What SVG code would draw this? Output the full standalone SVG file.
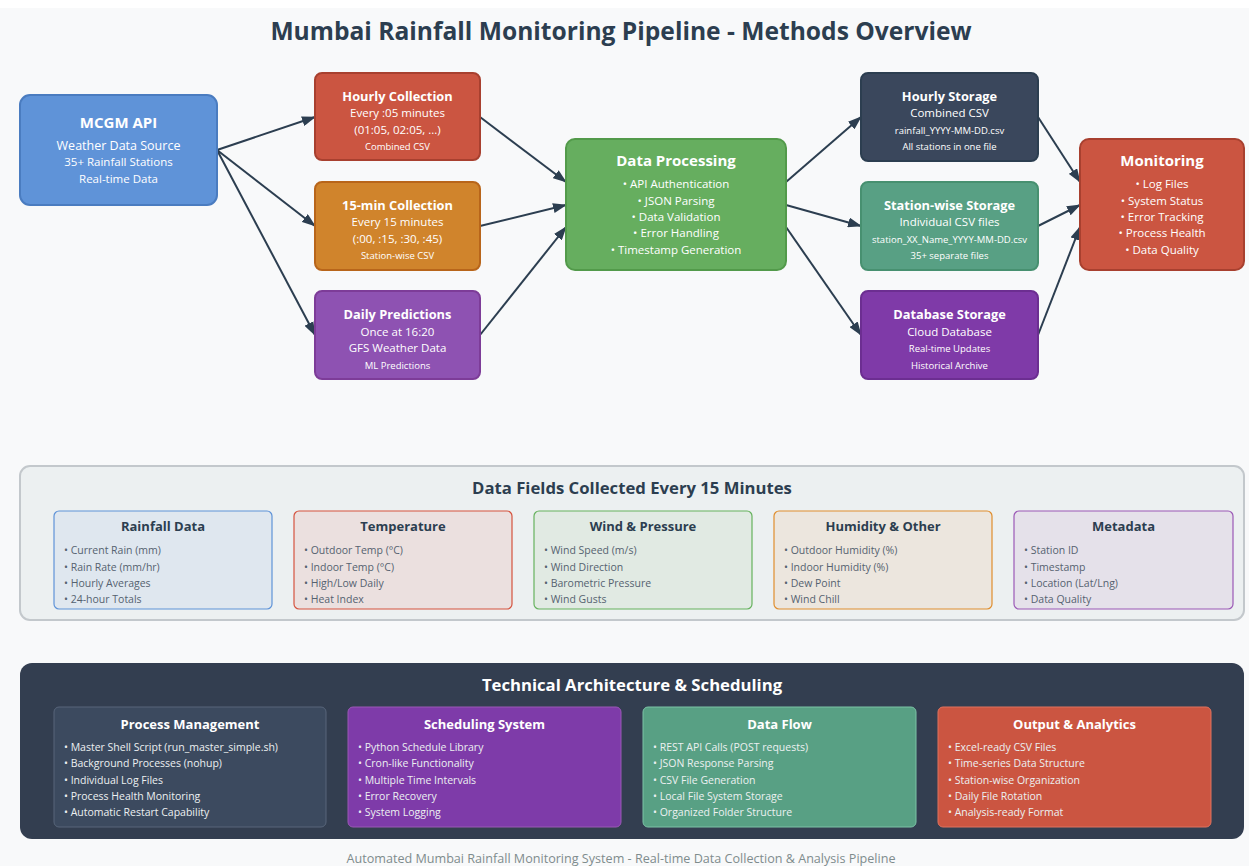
<svg xmlns="http://www.w3.org/2000/svg" width="1249" height="866" viewBox="0 0 1249 866">
<defs>
<marker id="arr" markerUnits="userSpaceOnUse" markerWidth="14" markerHeight="10" refX="13" refY="5" orient="auto">
<path d="M0,0 L14,5 L0,10 z" fill="#2c3e50"/>
</marker>
</defs>
<style>
text{font-family:"Open Sans","Noto Sans",sans-serif;}
.w{fill:#ffffff;text-anchor:middle;}
.t{font-weight:bold;font-size:12.8px;}
.T{font-weight:bold;font-size:15px;}
.s{font-size:11.5px;}
.m{font-size:12.5px;}
.x{font-size:9.5px;}
.node{stroke-width:2;}
.conn line{stroke:#2c3e50;stroke-width:2;marker-end:url(#arr);}
.ft{font-weight:bold;font-size:13px;fill:#2c3e50;text-anchor:middle;}
.fb{font-size:10.5px;fill:#556270;}
.at{font-weight:bold;font-size:13px;fill:#ffffff;text-anchor:middle;}
.ab{font-size:10.5px;fill:#ecf0f1;}
</style>
<rect x="0" y="0" width="1249" height="866" fill="#ffffff"/>
<rect x="0" y="8" width="1249" height="858" fill="#f8f9fa"/>
<text x="621" y="40" text-anchor="middle" font-size="24.6" font-weight="bold" fill="#2c3e50">Mumbai Rainfall Monitoring Pipeline - Methods Overview</text>

<g class="conn" id="connectors">
<line x1="217" y1="150" x2="315" y2="117"/>
<line x1="217" y1="150" x2="315" y2="226"/>
<line x1="217" y1="150" x2="315" y2="335"/>
<line x1="480" y1="117" x2="566" y2="182"/>
<line x1="480" y1="226" x2="566" y2="205"/>
<line x1="480" y1="335" x2="566" y2="227"/>
<line x1="786" y1="182" x2="861" y2="117"/>
<line x1="786" y1="205" x2="861" y2="226"/>
<line x1="786" y1="227" x2="861" y2="335"/>
<line x1="1038" y1="117" x2="1080" y2="182"/>
<line x1="1038" y1="226" x2="1080" y2="205"/>
<line x1="1038" y1="335" x2="1080" y2="227"/>
</g>

<g id="mcgm-api">
<rect class="node" x="20" y="95" width="197" height="110" rx="10" fill="#5f93d8" stroke="#4a7cc0"/>
<text class="w T" x="118.5" y="128">MCGM API</text>
<text class="w m" x="118.5" y="150">Weather Data Source</text>
<text class="w s" x="118.5" y="166" font-size="10.5">35+ Rainfall Stations</text>
<text class="w s" x="118.5" y="183" font-size="10.5">Real-time Data</text>
</g>

<g id="hourly-collection">
<rect class="node" x="315" y="73" width="165" height="87" rx="7" fill="#cb5541" stroke="#a8402f"/>
<text class="w t" x="397.5" y="101">Hourly Collection</text>
<text class="w s" x="397.5" y="117">Every :05 minutes</text>
<text class="w s" x="397.5" y="134">(01:05, 02:05, ...)</text>
<text class="w x" x="397.5" y="150">Combined CSV</text>
</g>

<g id="min15-collection">
<rect class="node" x="315" y="182" width="165" height="88" rx="7" fill="#d0842c" stroke="#b8651a"/>
<text class="w t" x="397.5" y="210">15-min Collection</text>
<text class="w s" x="397.5" y="226">Every 15 minutes</text>
<text class="w s" x="397.5" y="243">(:00, :15, :30, :45)</text>
<text class="w x" x="397.5" y="259">Station-wise CSV</text>
</g>

<g id="daily-predictions">
<rect class="node" x="315" y="291" width="165" height="88" rx="7" fill="#8e52b2" stroke="#7d3c98"/>
<text class="w t" x="397.5" y="319">Daily Predictions</text>
<text class="w s" x="397.5" y="336">Once at 16:20</text>
<text class="w s" x="397.5" y="352">GFS Weather Data</text>
<text class="w x" x="397.5" y="369">ML Predictions</text>
</g>

<g id="data-processing">
<rect class="node" x="566" y="139" width="220" height="131" rx="9" fill="#66ae5f" stroke="#529a4a"/>
<text class="w T" x="676" y="166">Data Processing</text>
<text class="w s" x="676" y="188">• API Authentication</text>
<text class="w s" x="676" y="205">• JSON Parsing</text>
<text class="w s" x="676" y="221">• Data Validation</text>
<text class="w s" x="676" y="237">• Error Handling</text>
<text class="w s" x="676" y="254">• Timestamp Generation</text>
</g>

<g id="hourly-storage">
<rect class="node" x="861" y="73" width="177" height="88" rx="7" fill="#3a475c" stroke="#2c3e50"/>
<text class="w t" x="949.5" y="101">Hourly Storage</text>
<text class="w s" x="949.5" y="117">Combined CSV</text>
<text class="w x" x="949.5" y="134">rainfall_YYYY-MM-DD.csv</text>
<text class="w x" x="949.5" y="150">All stations in one file</text>
</g>

<g id="station-storage">
<rect class="node" x="861" y="182" width="177" height="88" rx="7" fill="#58a084" stroke="#479070"/>
<text class="w t" x="949.5" y="210">Station-wise Storage</text>
<text class="w s" x="949.5" y="226">Individual CSV files</text>
<text class="w x" x="949.5" y="243">station_XX_Name_YYYY-MM-DD.csv</text>
<text class="w x" x="949.5" y="259">35+ separate files</text>
</g>

<g id="database-storage">
<rect class="node" x="861" y="291" width="177" height="88" rx="7" fill="#7f3aa8" stroke="#6c2e91"/>
<text class="w t" x="949.5" y="319">Database Storage</text>
<text class="w s" x="949.5" y="336">Cloud Database</text>
<text class="w x" x="949.5" y="352">Real-time Updates</text>
<text class="w x" x="949.5" y="369">Historical Archive</text>
</g>

<g id="monitoring">
<rect class="node" x="1080" y="139" width="164" height="131" rx="9" fill="#cb5541" stroke="#a8402f"/>
<text class="w T" x="1162" y="166">Monitoring</text>
<text class="w s" x="1162" y="188">• Log Files</text>
<text class="w s" x="1162" y="205">• System Status</text>
<text class="w s" x="1162" y="221">• Error Tracking</text>
<text class="w s" x="1162" y="237">• Process Health</text>
<text class="w s" x="1162" y="254">• Data Quality</text>
</g>

<g id="data-fields">
<rect x="20" y="466" width="1224" height="154" rx="10" fill="#ecf0f1" stroke="#c3c8cc" stroke-width="2"/>
<text x="632" y="494" text-anchor="middle" font-size="16.7" font-weight="bold" fill="#2c3e50">Data Fields Collected Every 15 Minutes</text>
<g id="field-rainfall">
<rect x="54" y="511" width="218" height="98" rx="5" fill="#dfe7ef" stroke="#5f93d8" stroke-width="1.2"/>
<text class="ft" x="163" y="531">Rainfall Data</text>
<text class="fb" x="64" y="554">• Current Rain (mm)</text>
<text class="fb" x="64" y="571">• Rain Rate (mm/hr)</text>
<text class="fb" x="64" y="587">• Hourly Averages</text>
<text class="fb" x="64" y="603">• 24-hour Totals</text>
</g>
<g id="field-temperature">
<rect x="294" y="511" width="218" height="98" rx="5" fill="#ebe0df" stroke="#d5533f" stroke-width="1.2"/>
<text class="ft" x="403" y="531">Temperature</text>
<text class="fb" x="304" y="554">• Outdoor Temp (°C)</text>
<text class="fb" x="304" y="571">• Indoor Temp (°C)</text>
<text class="fb" x="304" y="587">• High/Low Daily</text>
<text class="fb" x="304" y="603">• Heat Index</text>
</g>
<g id="field-wind">
<rect x="534" y="511" width="218" height="98" rx="5" fill="#e1eae3" stroke="#66b25e" stroke-width="1.2"/>
<text class="ft" x="643" y="531">Wind &amp; Pressure</text>
<text class="fb" x="544" y="554">• Wind Speed (m/s)</text>
<text class="fb" x="544" y="571">• Wind Direction</text>
<text class="fb" x="544" y="587">• Barometric Pressure</text>
<text class="fb" x="544" y="603">• Wind Gusts</text>
</g>
<g id="field-humidity">
<rect x="774" y="511" width="218" height="98" rx="5" fill="#ece6de" stroke="#e08e2e" stroke-width="1.2"/>
<text class="ft" x="883" y="531">Humidity &amp; Other</text>
<text class="fb" x="784" y="554">• Outdoor Humidity (%)</text>
<text class="fb" x="784" y="571">• Indoor Humidity (%)</text>
<text class="fb" x="784" y="587">• Dew Point</text>
<text class="fb" x="784" y="603">• Wind Chill</text>
</g>
<g id="field-metadata">
<rect x="1014" y="511" width="219" height="98" rx="5" fill="#e5e1ea" stroke="#9b59b6" stroke-width="1.2"/>
<text class="ft" x="1123.5" y="531">Metadata</text>
<text class="fb" x="1024" y="554">• Station ID</text>
<text class="fb" x="1024" y="571">• Timestamp</text>
<text class="fb" x="1024" y="587">• Location (Lat/Lng)</text>
<text class="fb" x="1024" y="603">• Data Quality</text>
</g>
</g>

<g id="tech-architecture">
<rect x="20" y="663" width="1224" height="176" rx="12" fill="#333e50"/>
<text x="632" y="691" text-anchor="middle" font-size="16.7" font-weight="bold" fill="#ffffff">Technical Architecture &amp; Scheduling</text>
<g id="arch-process">
<rect x="54" y="707" width="272" height="120" rx="5" fill="#3c4a5f" stroke="#58657a" stroke-width="1"/>
<text class="at" x="190" y="729">Process Management</text>
<text class="ab" x="64" y="751">• Master Shell Script (run_master_simple.sh)</text>
<text class="ab" x="64" y="767">• Background Processes (nohup)</text>
<text class="ab" x="64" y="784">• Individual Log Files</text>
<text class="ab" x="64" y="800">• Process Health Monitoring</text>
<text class="ab" x="64" y="816">• Automatic Restart Capability</text>
</g>
<g id="arch-scheduling">
<rect x="348" y="707" width="273" height="120" rx="5" fill="#7e3ba9" stroke="#9b59b6" stroke-width="1"/>
<text class="at" x="484.5" y="729">Scheduling System</text>
<text class="ab" x="358" y="751">• Python Schedule Library</text>
<text class="ab" x="358" y="767">• Cron-like Functionality</text>
<text class="ab" x="358" y="784">• Multiple Time Intervals</text>
<text class="ab" x="358" y="800">• Error Recovery</text>
<text class="ab" x="358" y="816">• System Logging</text>
</g>
<g id="arch-dataflow">
<rect x="643" y="707" width="273" height="120" rx="5" fill="#58a084" stroke="#7cc3a6" stroke-width="1"/>
<text class="at" x="779.5" y="729">Data Flow</text>
<text class="ab" x="653" y="751">• REST API Calls (POST requests)</text>
<text class="ab" x="653" y="767">• JSON Response Parsing</text>
<text class="ab" x="653" y="784">• CSV File Generation</text>
<text class="ab" x="653" y="800">• Local File System Storage</text>
<text class="ab" x="653" y="816">• Organized Folder Structure</text>
</g>
<g id="arch-output">
<rect x="938" y="707" width="273" height="120" rx="5" fill="#cb5541" stroke="#e0735f" stroke-width="1"/>
<text class="at" x="1074.5" y="729">Output &amp; Analytics</text>
<text class="ab" x="948" y="751">• Excel-ready CSV Files</text>
<text class="ab" x="948" y="767">• Time-series Data Structure</text>
<text class="ab" x="948" y="784">• Station-wise Organization</text>
<text class="ab" x="948" y="800">• Daily File Rotation</text>
<text class="ab" x="948" y="816">• Analysis-ready Format</text>
</g>
</g>

<text x="621" y="863" text-anchor="middle" font-size="12.6" fill="#7f8c8d">Automated Mumbai Rainfall Monitoring System - Real-time Data Collection &amp; Analysis Pipeline</text>
</svg>
